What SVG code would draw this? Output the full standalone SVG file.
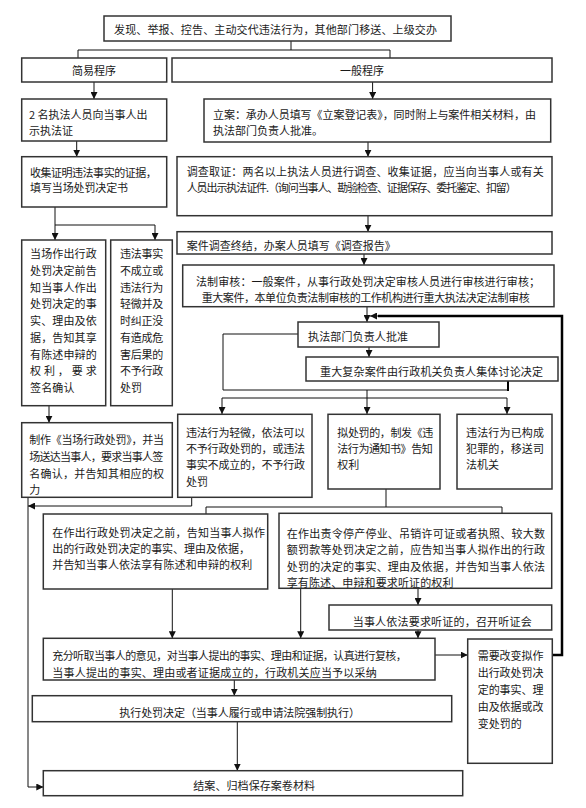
<svg xmlns="http://www.w3.org/2000/svg" width="586" height="808" viewBox="0 0 586 808">
<style>
.b{fill:#fff;stroke:#333;stroke-width:1.5}
.t{font-family:"Noto Sans CJK SC","Noto Sans",sans-serif;font-size:11px;fill:#1a1a1a;dominant-baseline:central}
.m{text-anchor:middle}
.c{fill:none;stroke:#111;stroke-width:1}
.a{fill:none;stroke:#111;stroke-width:1;marker-end:url(#ah)}
.k{fill:none;stroke:#000;stroke-width:2.5}
</style>
<defs>
<marker id="ah" viewBox="0 0 10 10" refX="10" refY="5" markerWidth="7" markerHeight="7" markerUnits="userSpaceOnUse" orient="auto"><path d="M0,0 L10,5 L0,10 z" fill="#111"/></marker>
</defs>
<rect width="586" height="808" fill="#fff"/>

<g id="connectors">
<path class="c" d="M291,41 V50 M78,50 H390 M78,50 V58 M390,50 V58"/>
<path class="a" d="M94,82 V99"/>
<path class="a" d="M372.6,82 V99"/>
<path class="a" d="M76.7,141 V156.7"/>
<path class="a" d="M55,207 V240"/>
<path class="a" d="M55,225 H155 V240"/>
<path class="a" d="M368,142 V156.7"/>
<path class="a" d="M368,216 V231.7"/>
<path class="a" d="M364,254 V265"/>
<path class="a" d="M367,307 V322"/>
<path class="k" d="M552,655 H562 V316 H378"/>
<path class="a" d="M378,316 H370"/>
<path class="a" d="M369,347 V357"/>
<path class="c" d="M298,334 H223 V390 H508"/>
<path class="k" d="M508,391 V381" style="stroke-width:2"/>
<path class="a" d="M367,390 V414"/>
<path class="c" d="M222,398 H507"/>
<path class="a" d="M222,398 V414"/>
<path class="a" d="M507,398 V414"/>
<path class="a" d="M49,406 V422.7"/>
<path class="a" d="M191.7,497 V506 H28"/>
<path class="a" d="M28,497 V787 H43.3"/>
<path class="c" d="M386,489 V507 M206,507 H502 M206,507 V514 M502,507 V513.3"/>
<path class="a" d="M172.3,589 V638.3"/>
<path class="a" d="M300.7,588.3 V638.3"/>
<path class="a" d="M418,588.3 V605"/>
<path class="a" d="M418,630 V638.3"/>
<path class="a" d="M234.3,680 V695.7"/>
<path class="a" d="M237.3,721.7 V770.7"/>
<path class="a" d="M435,655 H467.7"/>
</g>

<g id="n-top"><rect class="b" x="104" y="16" width="347" height="25"/>
<text class="t" x="114" y="28.5" textLength="323" lengthAdjust="spacing">发现、举报、控告、主动交代违法行为，其他部门移送、上级交办</text></g>

<g id="n-jianyi"><rect class="b" x="21.7" y="58" width="145" height="24"/>
<text class="t m" x="94" y="70">简易程序</text></g>

<g id="n-yiban"><rect class="b" x="172" y="58" width="380" height="24"/>
<text class="t m" x="362" y="70">一般程序</text></g>

<g id="n-2ming"><rect class="b" x="21.7" y="99" width="145" height="42"/>
<text class="t" x="29" y="114">2 名执法人员向当事人出</text>
<text class="t" x="29" y="130">示执法证</text></g>

<g id="n-lian"><rect class="b" x="204" y="99" width="346.7" height="43"/>
<text class="t" x="213" y="113.5" textLength="323" lengthAdjust="spacing">立案：承办人员填写《立案登记表》，同时附上与案件相关材料，由</text>
<text class="t" x="213" y="130">执法部门负责人批准。</text></g>

<g id="n-shouji"><rect class="b" x="21.7" y="156.7" width="145" height="50.3"/>
<text class="t" x="30" y="171.7" textLength="126.7" lengthAdjust="spacing">收集证明违法事实的证据，</text>
<text class="t" x="30" y="187" textLength="98" lengthAdjust="spacing">填写当场处罚决定书</text></g>

<g id="n-diaocha"><rect class="b" x="177" y="156.7" width="375" height="59"/>
<text class="t" x="186.7" y="170.7" textLength="357" lengthAdjust="spacing">调查取证：两名以上执法人员进行调查、收集证据，应当向当事人或有关</text>
<text class="t" x="186.7" y="187.3" textLength="330" lengthAdjust="spacing">人员出示执法证件.（询问当事人、勘验检查、证据保存、委托鉴定、扣留）</text></g>

<g id="n-zhongjie"><rect class="b" x="177" y="231.7" width="375" height="22.3"/>
<text class="t" x="186.7" y="244.5">案件调查终结，办案人员填写《调查报告》</text></g>

<g id="n-fazhi"><rect class="b" x="182.7" y="265" width="371.3" height="41.7"/>
<text class="t" x="196" y="280.7" textLength="344" lengthAdjust="spacing">法制审核：一般案件，从事行政处罚决定审核人员进行审核进行审核；</text>
<text class="t" x="201.7" y="296.7" textLength="328" lengthAdjust="spacing">重大案件，本单位负责法制审核的工作机构进行重大执法决定法制审核</text></g>

<g id="n-dangchang"><rect class="b" x="21.7" y="240" width="84" height="165.7"/>
<text class="t" x="30" y="253.3" textLength="66.7" lengthAdjust="spacing">当场作出行政</text>
<text class="t" x="30" y="270" textLength="66.7" lengthAdjust="spacing">处罚决定前告</text>
<text class="t" x="30" y="286.7" textLength="66.7" lengthAdjust="spacing">知当事人作出</text>
<text class="t" x="30" y="303.4" textLength="66.7" lengthAdjust="spacing">处罚决定的事</text>
<text class="t" x="30" y="320.1" textLength="66.7" lengthAdjust="spacing">实、理由及依</text>
<text class="t" x="30" y="336.8" textLength="66.7" lengthAdjust="spacing">据，告知其享</text>
<text class="t" x="30" y="353.5" textLength="66.7" lengthAdjust="spacing">有陈述申辩的</text>
<text class="t" x="30" y="370.2" textLength="66.7" lengthAdjust="spacing">权利，要求</text>
<text class="t" x="30" y="386.9" textLength="44.4" lengthAdjust="spacing">签名确认</text></g>

<g id="n-weifa"><rect class="b" x="110.7" y="240" width="61.6" height="165.7"/>
<text class="t" x="120" y="253.3" textLength="43.3" lengthAdjust="spacing">违法事实</text>
<text class="t" x="120" y="270" textLength="43.3" lengthAdjust="spacing">不成立或</text>
<text class="t" x="120" y="286.7" textLength="43.3" lengthAdjust="spacing">违法行为</text>
<text class="t" x="120" y="303.4" textLength="43.3" lengthAdjust="spacing">轻微并及</text>
<text class="t" x="120" y="320.1" textLength="43.3" lengthAdjust="spacing">时纠正没</text>
<text class="t" x="120" y="336.8" textLength="43.3" lengthAdjust="spacing">有造成危</text>
<text class="t" x="120" y="353.5" textLength="43.3" lengthAdjust="spacing">害后果的</text>
<text class="t" x="120" y="370.2" textLength="43.3" lengthAdjust="spacing">不予行政</text>
<text class="t" x="120" y="386.9">处罚</text></g>

<g id="n-pizhun"><rect class="b" x="298" y="322" width="141" height="25"/>
<text class="t" x="308" y="336" textLength="100" lengthAdjust="spacing">执法部门负责人批准</text></g>

<g id="n-zhongda"><rect class="b" x="306" y="357" width="252" height="24"/>
<text class="t" x="320" y="370.5" textLength="223" lengthAdjust="spacing">重大复杂案件由行政机关负责人集体讨论决定</text></g>

<g id="n-zhizuo"><rect class="b" x="21.7" y="422.7" width="150.6" height="74.6"/>
<text class="t" x="29.3" y="439.3" textLength="134.7" lengthAdjust="spacing">制作《当场行政处罚》，并当</text>
<text class="t" x="29.3" y="456" textLength="134" lengthAdjust="spacing">场送达当事人，要求当事人签</text>
<text class="t" x="29.3" y="472.7" textLength="134.7" lengthAdjust="spacing">名确认，并告知其相应的权</text>
<text class="t" x="29.3" y="489.3">力</text></g>

<g id="n-qingwei"><rect class="b" x="177.7" y="414.3" width="134.3" height="83"/>
<text class="t" x="186" y="432.3" textLength="119" lengthAdjust="spacing">违法行为轻微，依法可以</text>
<text class="t" x="186" y="448" textLength="119" lengthAdjust="spacing">不予行政处罚的，或违法</text>
<text class="t" x="186" y="464" textLength="119" lengthAdjust="spacing">事实不成立的，不予行政</text>
<text class="t" x="186" y="480.7">处罚</text></g>

<g id="n-nichufa"><rect class="b" x="328" y="414.3" width="112" height="74.7"/>
<text class="t" x="337.3" y="432.3" textLength="96" lengthAdjust="spacing">拟处罚的，制发《违</text>
<text class="t" x="337.3" y="448" textLength="95.4" lengthAdjust="spacing">法行为通知书》告知</text>
<text class="t" x="337.3" y="464">权利</text></g>

<g id="n-fanzui"><rect class="b" x="457" y="414.3" width="95" height="74.7"/>
<text class="t" x="466" y="432.3" textLength="78" lengthAdjust="spacing">违法行为已构成</text>
<text class="t" x="466" y="448" textLength="78" lengthAdjust="spacing">犯罪的，移送司</text>
<text class="t" x="466" y="464">法机关</text></g>

<g id="n-gaozhi"><rect class="b" x="43.3" y="514" width="224.4" height="75"/>
<text class="t" x="52.3" y="532.3" textLength="212.7" lengthAdjust="spacing">在作出行政处罚决定之前，告知当事人拟作</text>
<text class="t" x="52.3" y="548.3" textLength="197.7" lengthAdjust="spacing">出的行政处罚决定的事实、理由及依据，</text>
<text class="t" x="52.3" y="564.3" textLength="200" lengthAdjust="spacing">并告知当事人依法享有陈述和申辩的权利</text></g>

<g id="n-tingzheng-gaozhi"><rect class="b" x="279" y="513.3" width="272.7" height="75"/>
<text class="t" x="286.7" y="533.3" textLength="258.3" lengthAdjust="spacing">在作出责令停产停业、吊销许可证或者执照、较大数</text>
<text class="t" x="286.7" y="549.3" textLength="258.3" lengthAdjust="spacing">额罚款等处罚决定之前，应告知当事人拟作出的行政</text>
<text class="t" x="286.7" y="565.7" textLength="258.3" lengthAdjust="spacing">处罚的决定的事实、理由及依据，并告知当事人依法</text>
<text class="t" x="286.7" y="581.7" textLength="166.7" lengthAdjust="spacing">享有陈述、申辩和要求听证的权利</text></g>

<g id="n-tingzhenghui"><rect class="b" x="329" y="605" width="222.7" height="25"/>
<text class="t" x="352.7" y="620.5" textLength="179" lengthAdjust="spacing">当事人依法要求听证的，召开听证会</text></g>

<g id="n-chongfen"><rect class="b" x="43.3" y="638.3" width="391.7" height="41.7"/>
<text class="t" x="52.3" y="655" textLength="354.4" lengthAdjust="spacing">充分听取当事人的意见，对当事人提出的事实、理由和证据，认真进行复核，</text>
<text class="t" x="52.3" y="672.3" textLength="324.4" lengthAdjust="spacing">当事人提出的事实、理由或者证据成立的，行政机关应当予以采纳</text></g>

<g id="n-zhixing"><rect class="b" x="32.3" y="695.7" width="419.4" height="26"/>
<text class="t" x="119.3" y="712" textLength="240.7" lengthAdjust="spacing">执行处罚决定（当事人履行或申请法院强制执行）</text></g>

<g id="n-jiean"><rect class="b" x="43.3" y="770.7" width="419.4" height="25"/>
<text class="t" x="193.3" y="785" textLength="121.7" lengthAdjust="spacing">结案、归档保存案卷材料</text></g>

<g id="n-gaibian"><rect class="b" x="467.7" y="639" width="84.6" height="124.3"/>
<text class="t" x="477.7" y="655" textLength="65.7" lengthAdjust="spacing">需要改变拟作</text>
<text class="t" x="477.7" y="672.3" textLength="65.7" lengthAdjust="spacing">出行政处罚决</text>
<text class="t" x="477.7" y="689.3" textLength="65.7" lengthAdjust="spacing">定的事实、理</text>
<text class="t" x="477.7" y="706" textLength="65.7" lengthAdjust="spacing">由及依据或改</text>
<text class="t" x="477.7" y="723.3">变处罚的</text></g>
</svg>
